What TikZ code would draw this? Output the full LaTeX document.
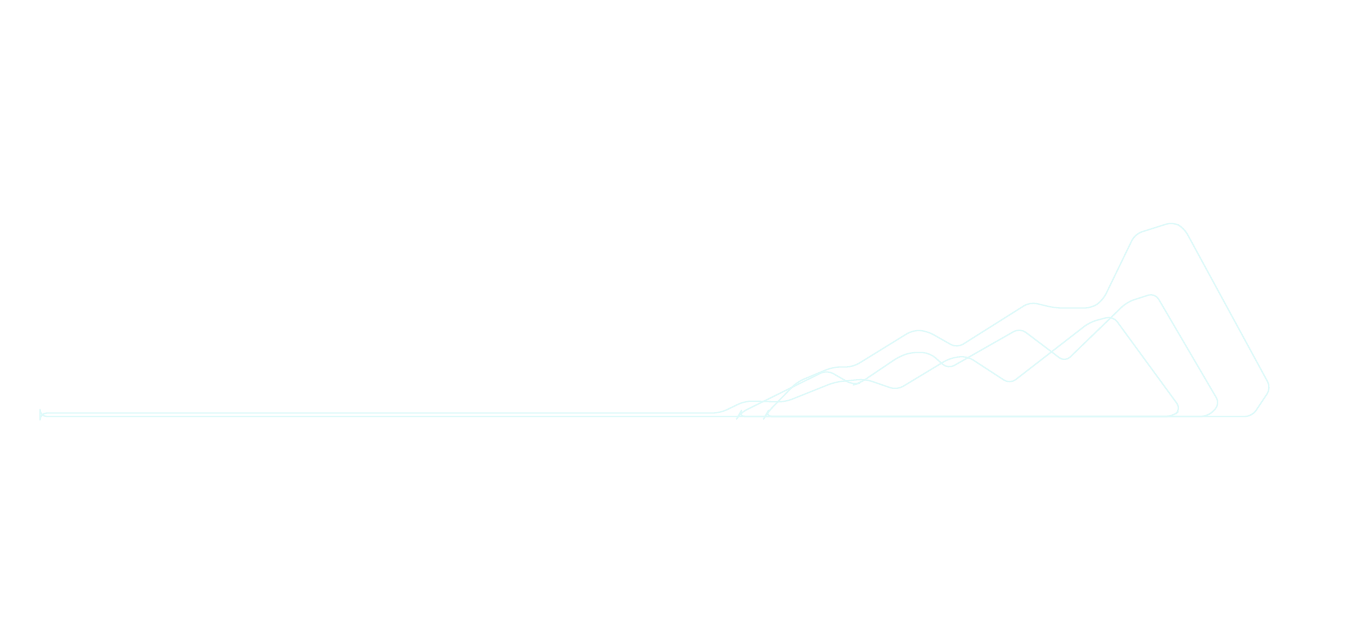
\documentclass[tikz,border=0pt]{standalone}
\usepackage{tikz}
\definecolor{lineC}{RGB}{222,250,250}
\tikzset{
  area/.style={draw=lineC, line width=1.3bp, rounded corners=7bp, line join=round},
}
\begin{document}
\begin{tikzpicture}[x=1bp, y=-1bp]
\useasboundingbox[fill=white] (0,0) rectangle (1367,640);
% series alpha (bottom)
\draw[area] (40,416.5) -- (40,413) -- (720,413) -- (745,401) -- (785,402) -- (835,382) -- (865,379) -- (897,390) -- (950,358) -- (967,356) -- (1010,384) -- (1090,322) -- (1113,316) -- (1181,409) -- (1173,416.5) -- cycle;
% series beta (middle)
\draw[area] (738,416.5) -- (740,413) -- (827,370) -- (853,385) -- (860,383) -- (900,356) -- (913,352) -- (930,353) -- (948,369) -- (1020,328) -- (1065,362) -- (1127,302) -- (1155,293) -- (1220,404) -- (1208,416.5) -- cycle;
% series gamma (top)
\draw[area] (765,416.5) -- (767,413) -- (797,382) -- (833,367) -- (853,367) -- (913,330) -- (927,331) -- (957,348) -- (1030,302) -- (1055,308) -- (1092,308) -- (1103,300) -- (1135,234) -- (1173,222) -- (1184,228) -- (1271,388) -- (1252,416.5) -- cycle;
\end{tikzpicture}
\end{document}
